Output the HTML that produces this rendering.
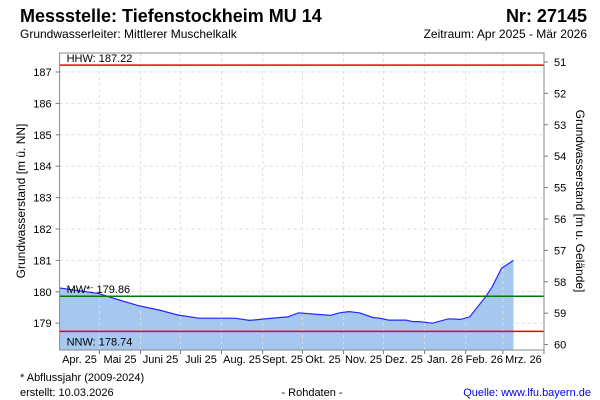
<!DOCTYPE html>
<html><head><meta charset="utf-8"><style>
body{margin:0;background:#fff;width:600px;height:400px;overflow:hidden;font-family:"Liberation Sans",Arial,sans-serif}
svg{display:block}
</style></head><body>
<svg id="c" width="600" height="400" xmlns="http://www.w3.org/2000/svg">
<text x="20" y="22" font-size="18" font-weight="bold" fill="#000">Messstelle: Tiefenstockheim MU 14</text>
<text x="587" y="22" font-size="18" font-weight="bold" text-anchor="end">Nr: 27145</text>
<text x="20" y="38" font-size="12">Grundwasserleiter:   Mittlerer Muschelkalk</text>
<text x="587" y="38" font-size="12" text-anchor="end">Zeitraum: Apr 2025 - Mär 2026</text>
<g id="plot"></g>
<text transform="translate(25,201) rotate(-90)" font-size="12" text-anchor="middle">Grundwasserstand [m ü. NN]</text>
<text transform="translate(576,201) rotate(90)" font-size="12" text-anchor="middle">Grundwasserstand [m u. Gelände]</text>
<text x="20" y="381" font-size="11">* Abflussjahr (2009-2024)</text>
<text x="20" y="396" font-size="11">erstellt:  10.03.2026</text>
<text x="312" y="396" font-size="11" text-anchor="middle">- Rohdaten -</text>
<text x="591" y="396" font-size="11" text-anchor="end" fill="#0000ee">Quelle: www.lfu.bayern.de</text>
</svg>
<script>
const months=["Apr. 25","Mai 25","Juni 25","Juli 25","Aug. 25","Sept. 25","Okt. 25","Nov. 25","Dez. 25","Jan. 26","Feb. 26","Mrz. 26"];
const monthDays=[30,31,30,31,31,30,31,30,31,31,28,31];
const leftTicks=[179,180,181,182,183,184,185,186,187];
const rightTicks=[51,52,53,54,55,56,57,58,59,60];
const groundLevel=238.32;
const refNames=["HHW: 187.22","MW*: 179.86","NNW: 178.74"];
const refValues=[187.22,179.86,178.74];
const refColors=["#ee0000","#007700","#ee0000"];
const days=[0,29,45,60,75,89,105,120,132,143,151,166,172,180,192,204,211,218,226,236,241,248,261,266,271,281,293,302,309,321,326,333,342];
const levels=[180.12,179.95,179.74,179.55,179.42,179.26,179.16,179.16,179.16,179.09,179.12,179.18,179.2,179.33,179.29,179.25,179.33,179.37,179.33,179.18,179.16,179.1,179.1,179.05,179.05,179.0,179.14,179.12,179.2,179.84,180.16,180.75,181.0];

const L=59.6,R=544,T=53,B=350,totalDays=365;
const xs=d=>L+d*(R-L)/totalDays;
const ys=v=>72+(187-v)*31.4;
const NS="http://www.w3.org/2000/svg";
const g=document.getElementById('plot');
function mk(t,a,txt){const e=document.createElementNS(NS,t);for(const k in a)e.setAttribute(k,a[k]);if(txt!==undefined)e.textContent=txt;g.appendChild(e);return e;}
leftTicks.forEach(v=>{const y=ys(v);
 const l=mk('line',{x1:L,x2:R,y1:y,y2:y,stroke:'#ddd','stroke-dasharray':'3,3'});
 
 
 const t=mk('line',{x1:L-4,x2:L,y1:y,y2:y,stroke:'#777'});
 
 
 const tx=mk('text',{x:L-8,y:y+4,'font-size':11,'text-anchor':'end'},String(v));
 
 
});
rightTicks.forEach(d=>{const y=ys(groundLevel-d);
 const t=mk('line',{x1:R,x2:R+4,y1:y,y2:y,stroke:'#777'});
 
 
 const tx=mk('text',{x:R+10,y:y+4,'font-size':11},String(d));
 
 
});
let acc=0;const bounds=[0];monthDays.forEach(m=>{acc+=m;bounds.push(acc);});
let dpath='M'+xs(days[0])+','+B;
days.forEach((d,i)=>{dpath+=' L'+xs(d).toFixed(1)+','+ys(levels[i]).toFixed(1);});
dpath+=' L'+xs(days[days.length-1]).toFixed(1)+','+B+' Z';
const area=mk('path',{d:dpath,fill:'#a6c8f0'});


bounds.forEach((b,i)=>{if(i==0||b>totalDays)return;const x=xs(b);
 const l=mk('line',{x1:x,x2:x,y1:T,y2:B,stroke:'#ddd','stroke-dasharray':'3,3'});
 
 
 const t=mk('line',{x1:x,x2:x,y1:B,y2:B+4,stroke:'#777'});
 
 
});
let lp='';days.forEach((d,i)=>{lp+=(i?' L':'M')+xs(d).toFixed(1)+','+ys(levels[i]).toFixed(1);});
const line=mk('path',{d:lp,fill:'none',stroke:'#2828ff','stroke-width':1.2});


refValues.forEach((v,i)=>{const y=ys(v);
 const l=mk('line',{x1:L,x2:R,y1:y,y2:y,stroke:refColors[i],'stroke-width':1.5});
 
 
 const t=mk('text',{x:L+7,y:i==2?y+14:y-3,'font-size':11},refNames[i]);
 
 
});
months.forEach((m,i)=>{const c=xs((bounds[i]+Math.min(bounds[i+1],totalDays))/2);
 const t=mk('text',{x:c,y:B+13,'font-size':11,'text-anchor':'middle'},m);
 
 
});
const fr=mk('rect',{x:L,y:T,width:R-L,height:B-T,fill:'none',stroke:'#888'});


</script>
</body></html>
